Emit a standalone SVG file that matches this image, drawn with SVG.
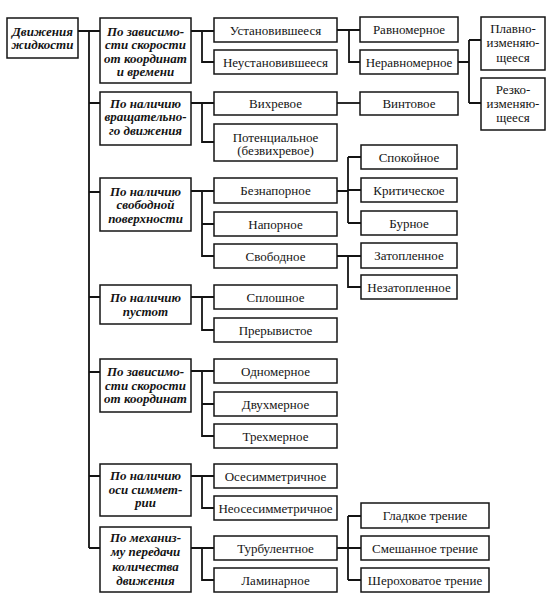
<svg xmlns="http://www.w3.org/2000/svg" width="552" height="598" viewBox="0 0 552 598" font-family="Liberation Serif, DejaVu Serif, serif">
<style>
.box{fill:#fff;stroke:#141414;stroke-width:1.5}
.t{font-family:'Liberation Serif','DejaVu Serif',serif;font-size:13px;text-anchor:middle;fill:#141414}
.i{font-style:italic;font-weight:bold}
.c{fill:none;stroke:#141414;stroke-width:1.8}
</style>
<rect width="552" height="598" fill="#fff"/>
<g id="connectors" class="c">
<path d="M78,31 H100 M89,31 V548 M89,103 H100 M89,192 H100 M89,297 H100 M89,372 H100 M89,476 H100 M89,548 H100"/>
<path d="M191,31 H214 M202,31 V62 H214"/>
<path d="M191,103 H214 M202,103 V142 H214"/>
<path d="M191,191 H214 M202,191 V256 H214 M202,224 H214"/>
<path d="M191,297 H214 M202,297 V330 H214"/>
<path d="M191,371 H214 M202,371 V436 H214 M202,404 H214"/>
<path d="M191,476 H214 M202,476 V508 H214"/>
<path d="M191,548 H214 M202,548 V580 H214"/>
<path d="M337,30 H360 M349,30 V62 H360"/>
<path d="M458,62 H469 M469,40 V103 M469,40 H481 M469,103 H481"/>
<path d="M337,103 H360"/>
<path d="M337,191 H348 M348,157 V223 M348,157 H361 M348,190 H361 M348,223 H361"/>
<path d="M337,256 H361 M348,256 V287 H361"/>
<path d="M337,548 H348 M348,516 V580 M348,516 H361 M348,548 H361 M348,580 H361"/>
</g>
<g id="root"><rect class="box" x="7" y="18" width="71" height="40"/><text class="t i" x="42.5" y="35.5">Движения</text><text class="t i" x="42.5" y="49">жидкости</text></g>
<g id="cat1"><rect class="box" x="100" y="18" width="91" height="65"/><text class="t i" x="145.5" y="35.5">По зависимо-</text><text class="t i" x="145.5" y="49">сти скорости</text><text class="t i" x="145.5" y="62.5">от координат</text><text class="t i" x="145.5" y="76">и времени</text></g>
<g id="cat2"><rect class="box" x="100" y="92" width="91" height="53"/><text class="t i" x="145.5" y="107.5">По наличию</text><text class="t i" x="145.5" y="121">вращательно-</text><text class="t i" x="145.5" y="134.5">го движения</text></g>
<g id="cat3"><rect class="box" x="100" y="178" width="91" height="53"/><text class="t i" x="145.5" y="195.5">По наличию</text><text class="t i" x="145.5" y="209">свободной</text><text class="t i" x="145.5" y="223">поверхности</text></g>
<g id="cat4"><rect class="box" x="100" y="285" width="91" height="39"/><text class="t i" x="145.5" y="301.5">По наличию</text><text class="t i" x="145.5" y="316">пустот</text></g>
<g id="cat5"><rect class="box" x="100" y="359" width="91" height="53"/><text class="t i" x="145.5" y="375.5">По зависимо-</text><text class="t i" x="145.5" y="389.5">сти скорости</text><text class="t i" x="145.5" y="403">от координат</text></g>
<g id="cat6"><rect class="box" x="100" y="464" width="91" height="52"/><text class="t i" x="145.5" y="480">По наличию</text><text class="t i" x="145.5" y="493.5">оси симмет-</text><text class="t i" x="145.5" y="507">рии</text></g>
<g id="cat7"><rect class="box" x="100" y="527" width="91" height="65"/><text class="t i" x="145.5" y="542">По механиз-</text><text class="t i" x="145.5" y="556">му передачи</text><text class="t i" x="145.5" y="571">количества</text><text class="t i" x="145.5" y="584.5">движения</text></g>
<g id="n-ustan"><rect class="box" x="214" y="18" width="123" height="24"/><text class="t" x="275.5" y="34.5">Установившееся</text></g>
<g id="n-neustan"><rect class="box" x="214" y="50" width="123" height="24"/><text class="t" x="275.5" y="66.5">Неустановившееся</text></g>
<g id="n-vihr"><rect class="box" x="214" y="92" width="123" height="23"/><text class="t" x="275.5" y="108">Вихревое</text></g>
<g id="n-potenc"><rect class="box" x="214" y="124" width="123" height="37"/><text class="t" x="275.5" y="141.5">Потенциальное</text><text class="t" x="275.5" y="155">(безвихревое)</text></g>
<g id="n-beznap"><rect class="box" x="214" y="178" width="123" height="25"/><text class="t" x="275.5" y="195">Безнапорное</text></g>
<g id="n-nap"><rect class="box" x="214" y="212" width="123" height="24"/><text class="t" x="275.5" y="228.5">Напорное</text></g>
<g id="n-svob"><rect class="box" x="214" y="244" width="123" height="24"/><text class="t" x="275.5" y="260.5">Свободное</text></g>
<g id="n-splosh"><rect class="box" x="214" y="285" width="123" height="24"/><text class="t" x="275.5" y="301.5">Сплошное</text></g>
<g id="n-preryv"><rect class="box" x="214" y="318" width="123" height="24"/><text class="t" x="275.5" y="334.5">Прерывистое</text></g>
<g id="n-odnom"><rect class="box" x="214" y="359" width="123" height="24"/><text class="t" x="275.5" y="375.5">Одномерное</text></g>
<g id="n-dvuhm"><rect class="box" x="214" y="392" width="123" height="24"/><text class="t" x="275.5" y="408.5">Двухмерное</text></g>
<g id="n-trehm"><rect class="box" x="214" y="424" width="123" height="24"/><text class="t" x="275.5" y="440.5">Трехмерное</text></g>
<g id="n-osesim"><rect class="box" x="214" y="464" width="123" height="24"/><text class="t" x="275.5" y="480.5">Осесимметричное</text></g>
<g id="n-neosesim"><rect class="box" x="214" y="496" width="123" height="24"/><text class="t" x="275.5" y="512.5">Неосесимметричное</text></g>
<g id="n-turb"><rect class="box" x="214" y="536" width="123" height="24"/><text class="t" x="275.5" y="552.5">Турбулентное</text></g>
<g id="n-lamin"><rect class="box" x="214" y="568" width="123" height="24"/><text class="t" x="275.5" y="584.5">Ламинарное</text></g>
<g id="n-ravnom"><rect class="box" x="360" y="17" width="98" height="25"/><text class="t" x="409" y="34">Равномерное</text></g>
<g id="n-neravnom"><rect class="box" x="360" y="50" width="98" height="24"/><text class="t" x="409" y="66.5">Неравномерное</text></g>
<g id="n-vint"><rect class="box" x="360" y="92" width="98" height="23"/><text class="t" x="409" y="108">Винтовое</text></g>
<g id="n-plavno"><rect class="box" x="481" y="17" width="64" height="53"/><text class="t" x="513" y="32.5">Плавно-</text><text class="t" x="513" y="47">изменяю-</text><text class="t" x="513" y="61.5">щееся</text></g>
<g id="n-rezko"><rect class="box" x="481" y="78" width="64" height="52"/><text class="t" x="513" y="93.5">Резко-</text><text class="t" x="513" y="107.5">изменяю-</text><text class="t" x="513" y="121.5">щееся</text></g>
<g id="n-spok"><rect class="box" x="361" y="145" width="96" height="24"/><text class="t" x="409" y="161.5">Спокойное</text></g>
<g id="n-krit"><rect class="box" x="361" y="178" width="96" height="24"/><text class="t" x="409" y="194.5">Критическое</text></g>
<g id="n-bur"><rect class="box" x="361" y="211" width="96" height="24"/><text class="t" x="409" y="227.5">Бурное</text></g>
<g id="n-zatop"><rect class="box" x="361" y="243" width="96" height="25"/><text class="t" x="409" y="260">Затопленное</text></g>
<g id="n-nezatop"><rect class="box" x="361" y="275" width="96" height="24"/><text class="t" x="409" y="291.5">Незатопленное</text></g>
<g id="n-gladk"><rect class="box" x="361" y="503" width="128" height="25"/><text class="t" x="425" y="520">Гладкое трение</text></g>
<g id="n-smesh"><rect class="box" x="361" y="536" width="128" height="24"/><text class="t" x="425" y="552.5">Смешанное трение</text></g>
<g id="n-sher"><rect class="box" x="361" y="568" width="128" height="24"/><text class="t" x="425" y="584.5">Шероховатое трение</text></g>
</svg>
